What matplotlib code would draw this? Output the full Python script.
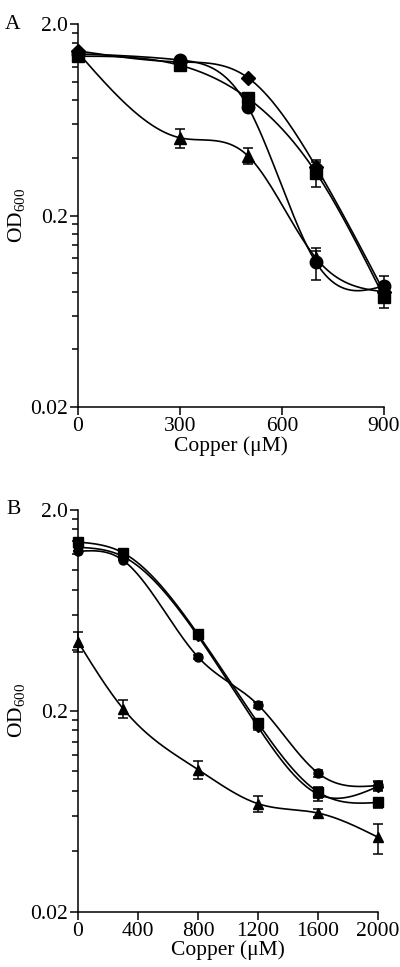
'''
Copper tolerance curves, OD600 vs copper concentration (panels A and B).
'''

import numpy as np
import matplotlib
matplotlib.use('Agg')
import matplotlib.pyplot as plt
from matplotlib.ticker import FixedLocator, NullFormatter

plt.rcParams['font.family'] = ['Liberation Serif', 'DejaVu Serif']
plt.rcParams['mathtext.fontset'] = 'custom'
plt.rcParams['mathtext.rm'] = 'Liberation Serif'

# ---- panel A data ----
cu_a = [0, 300, 500, 700, 900]
a_diamond = [1.45, 1.27, 1.05, 0.36, 0.080]
a_square = [1.36, 1.22, 0.82, 0.336, 0.075]
a_circle = [1.40, 1.30, 0.74, 0.114, 0.086]
a_triangle = [1.42, 0.51, 0.41, 0.120, 0.080]
a_diamond_err = [0, 0, 0, 0.02, 0.006]
a_square_err = [0, 0, 0, 0.055, 0.009]
a_circle_err = [0, 0, 0, 0.022, 0.011]
a_triangle_err = [0, 0.06, 0.04, 0.01, 0.006]

# ---- panel B data ----
cu_b = [0, 300, 800, 1200, 1600, 2000]
b_diamond = [1.30, 1.17, 0.47, 0.166, 0.077, 0.084]
b_square = [1.38, 1.22, 0.48, 0.174, 0.079, 0.070]
b_circle = [1.24, 1.12, 0.37, 0.214, 0.098, 0.085]
b_triangle = [0.44, 0.205, 0.102, 0.069, 0.062, 0.047]
b_diamond_err = [0, 0, 0, 0.006, 0.006, 0.004]
b_square_err = [0, 0, 0, 0.008, 0.005, 0.004]
b_circle_err = [0, 0, 0.01, 0.008, 0.004, 0.004]
b_triangle_err = [0.05, 0.02, 0.01, 0.006, 0.003, 0.008]

FS = 15.5


def spline(x, y, n=300):
    '''natural cubic spline through (x, log y), for the smoothed curves'''
    x = np.asarray(x, float)
    y = np.log10(np.asarray(y, float))
    k = len(x)
    h = np.diff(x)
    A = np.zeros((k, k))
    r = np.zeros(k)
    A[0, 0] = A[-1, -1] = 1
    for i in range(1, k - 1):
        A[i, i - 1] = h[i - 1]
        A[i, i] = 2 * (h[i - 1] + h[i])
        A[i, i + 1] = h[i]
        r[i] = 6 * ((y[i + 1] - y[i]) / h[i] - (y[i] - y[i - 1]) / h[i - 1])
    m = np.linalg.solve(A, r)
    xs = np.linspace(x[0], x[-1], n)
    j = np.clip(np.searchsorted(x, xs) - 1, 0, k - 2)
    t0 = x[j + 1] - xs
    t1 = xs - x[j]
    hj = h[j]
    ys = (m[j] * t0**3 + m[j + 1] * t1**3) / (6 * hj) \
        + (y[j] / hj - m[j] * hj / 6) * t0 + (y[j + 1] / hj - m[j + 1] * hj / 6) * t1
    return xs, 10**ys


def panel(ax, x, series, xticks, label, ms):
    for y, err, marker in series:
        xs, ys = spline(x, y)
        ax.plot(xs, ys, color='black', lw=1.2, zorder=2)
        size = ms * 0.82 if marker == 'D' else ms
        ax.errorbar(x, y, yerr=err, fmt=marker, color='black', ms=size,
                    ecolor='black', elinewidth=1.1, capsize=3.5, capthick=1.1,
                    clip_on=False, zorder=3)
    ax.set_yscale('log')
    ax.set_ylim(0.02, 2.0)
    ax.set_xlim(xticks[0], xticks[-1])
    ax.set_xticks(xticks)
    ax.set_yticks([0.02, 0.2, 2.0])
    ax.set_yticklabels(['0.02', '0.2', '2.0'])
    minors = list(np.arange(0.04, 0.195, 0.02)) + list(np.arange(0.4, 1.95, 0.2))
    ax.yaxis.set_minor_locator(FixedLocator(minors))
    ax.yaxis.set_minor_formatter(NullFormatter())
    ax.xaxis.set_minor_locator(FixedLocator([]))
    for side in ['top', 'right']:
        ax.spines[side].set_visible(False)
    for side in ['left', 'bottom']:
        ax.spines[side].set_linewidth(1.1)
    ax.tick_params(axis='both', which='major', direction='out', length=6,
                   width=1.1, labelsize=FS, pad=1)
    ax.tick_params(axis='y', which='minor', direction='out', length=4, width=1.1)
    ax.set_xlabel('Copper (\u03bcM)', fontsize=FS, labelpad=0)
    ax.set_ylabel(r'OD$_{\mathrm{600}}$', fontsize=FS, labelpad=2)
    ax.text(-0.24, 1.0, label, transform=ax.transAxes, fontsize=FS,
            va='center', ha='left')


fig = plt.figure(figsize=(4.0, 9.67), dpi=100)

ax_a = fig.add_axes([0.195, 0.579, 0.765, 0.396])
panel(ax_a, cu_a,
      [(a_diamond, a_diamond_err, 'D'), (a_square, a_square_err, 's'),
       (a_circle, a_circle_err, 'o'), (a_triangle, a_triangle_err, '^')],
      [0, 300, 600, 900], 'A', 9)

ax_b = fig.add_axes([0.195, 0.057, 0.75, 0.416])
panel(ax_b, cu_b,
      [(b_diamond, b_diamond_err, 'D'), (b_square, b_square_err, 's'),
       (b_circle, b_circle_err, 'o'), (b_triangle, b_triangle_err, '^')],
      [0, 400, 800, 1200, 1600, 2000], 'B', 6.5)

plt.savefig('out.png', dpi=100)
